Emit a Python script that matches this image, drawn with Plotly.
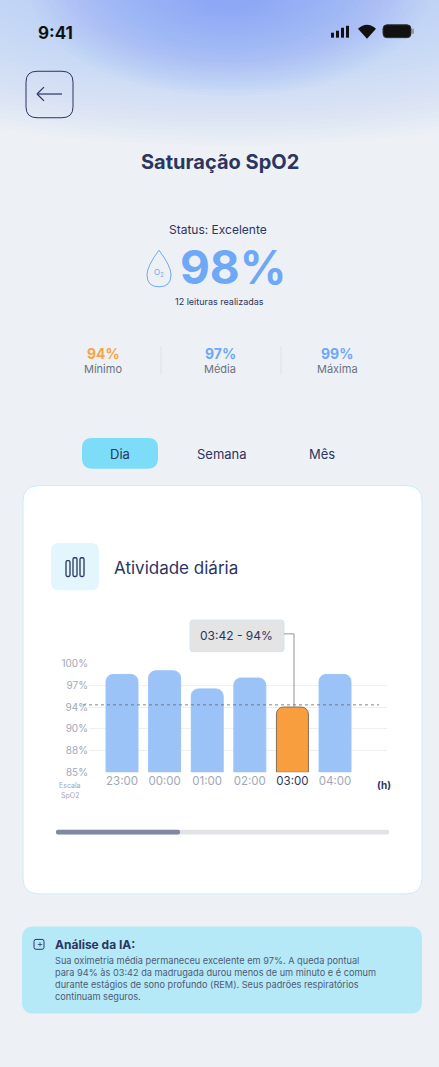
import plotly.graph_objects as go

hours = ["23:00", "00:00", "01:00", "02:00", "03:00", "04:00"]
spo2 = [98.5, 99.0, 96.5, 98.0, 94.0, 98.5]
highlight = "03:00"
scale_ticks = [85, 88, 90, 94, 97, 100]
scale_labels = ["85%", "88%", "90%", "94%", "97%", "100%"]
avg_line = 94.3

W, H = 439, 1067
def px(x): return x / W
def py(y): return 1 - y / H

def to_pos(v):
    # ordinal scale of the original: ticks equally spaced
    for i in range(len(scale_ticks) - 1):
        a, b = scale_ticks[i], scale_ticks[i + 1]
        if a <= v <= b:
            return i + (v - a) / (b - a)
    return len(scale_ticks) - 1

DARK = "#2b3561"
GREY = "#6b7280"
FONT = "Inter"

fig = go.Figure()
xs = list(range(len(hours)))
colors = ["#f99e3e" if h == highlight else "#9cc3f8" for h in hours]
lines = ["#8a6d50" if h == highlight else "#9cc3f8" for h in hours]
fig.add_trace(go.Bar(x=xs, y=[to_pos(v) for v in spo2], width=0.75,
                     marker=dict(color=colors, line=dict(color=lines, width=1)),
                     hoverinfo="skip"))
tick_txt = [f'<span style="color:{DARK}">{h}</span>' if h == highlight else h for h in hours]

shapes, ann = [], []
def rect(x0, y0, x1, y1, fill, line=None, lw=0, r=0, layer="below"):
    if r:
        p = (f"M {px(x0+r)},{py(y0)} L {px(x1-r)},{py(y0)} Q {px(x1)},{py(y0)} {px(x1)},{py(y0+r)} "
             f"L {px(x1)},{py(y1-r)} Q {px(x1)},{py(y1)} {px(x1-r)},{py(y1)} "
             f"L {px(x0+r)},{py(y1)} Q {px(x0)},{py(y1)} {px(x0)},{py(y1-r)} "
             f"L {px(x0)},{py(y0+r)} Q {px(x0)},{py(y0)} {px(x0+r)},{py(y0)} Z")
        shapes.append(dict(type="path", path=p, xref="paper", yref="paper", fillcolor=fill,
                           line=dict(color=line or fill, width=lw if line else 0), layer=layer))
    else:
        shapes.append(dict(type="rect", x0=px(x0), x1=px(x1), y0=py(y0), y1=py(y1), xref="paper",
                           yref="paper", fillcolor=fill, line=dict(color=line or fill, width=lw), layer=layer))
def seg(x0, y0, x1, y1, color, w=1, dash="solid", layer="above"):
    shapes.append(dict(type="line", x0=px(x0), x1=px(x1), y0=py(y0), y1=py(y1), xref="paper", yref="paper",
                       line=dict(color=color, width=w, dash=dash), layer=layer))
def text(x, y, s, size, color=DARK, bold=False, xa="center", fam=FONT):
    ann.append(dict(x=px(x), y=py(y), xref="paper", yref="paper", text=f"<b>{s}</b>" if bold else s,
                    showarrow=False, xanchor=xa, yanchor="middle", align="left",
                    font=dict(size=size, color=color, family=fam)))

# top glow: faint wide haze + soft blue core
n = 30
for i in range(n):
    f = 1 - i / n
    rx, ry = 120 + 420 * f, 40 + 140 * f
    shapes.append(dict(type="circle", xref="paper", yref="paper", x0=px(230 - rx), x1=px(230 + rx),
                       y0=py(-40 + ry), y1=py(-40 - ry), fillcolor="#9cc0f5", opacity=0.035,
                       line=dict(width=0), layer="below"))
for i in range(n):
    f = 1 - i / n
    rx, ry = 30 + 170 * f, 20 + 90 * f
    shapes.append(dict(type="circle", xref="paper", yref="paper", x0=px(230 - rx), x1=px(230 + rx),
                       y0=py(-20 + ry), y1=py(-20 - ry), fillcolor="#7fa0f7", opacity=0.03,
                       line=dict(width=0), layer="below"))

# status bar
text(55, 26, "9:41", 17, "#111", True)
for i, hgt in enumerate([5, 7, 10, 12]):
    rect(331 + i * 5, 31 - hgt, 334 + i * 5, 31, "#111")
shapes.append(dict(type="path", xref="paper", yref="paper", fillcolor="#111", line=dict(width=0),
                   path=f"M {px(367)},{py(32)} L {px(358)},{py(22)} Q {px(367)},{py(14)} {px(376)},{py(22)} Z"))
rect(383, 18, 411, 31, "#111", "#333", 1, r=4)
rect(412, 22, 414, 27, "#999")
# back button
rect(26, 65, 73, 112, "rgba(0,0,0,0)", DARK, 1, r=11)
seg(37, 88, 62, 88, DARK, 1.2)
seg(37, 88, 44, 81, DARK, 1.2)
seg(37, 88, 44, 95, DARK, 1.2)

text(220, 157, "Saturação SpO2", 20, DARK, True)
text(218, 225, "Status: Excelente", 12, DARK)
text(233, 263, "98%", 46, "#6fa8f7", True)
shapes.append(dict(type="path", xref="paper", yref="paper", line=dict(color="#6fa8f7", width=1),
                   path=f"M {px(159)},{py(246)} Q {px(171)},{py(262)} {px(171)},{py(271)} "
                        f"Q {px(171)},{py(283)} {px(159)},{py(283)} Q {px(147)},{py(283)} {px(147)},{py(271)} "
                        f"Q {px(147)},{py(262)} {px(159)},{py(246)} Z"))
text(159, 269, "O<sub>2</sub>", 8, "#6fa8f7")
text(219, 298, "12 leituras realizadas", 9, DARK)

for x, v, lab, c in [(103, "94%", "Mínimo", "#f7a547"), (220, "97%", "Média", "#6fa8f7"), (337, "99%", "Máxima", "#6fa8f7")]:
    text(x, 350, f"<b>{v}</b>", 14, c)
    text(x, 366, lab, 11, GREY)
seg(161, 343, 161, 372, "#dde2ea")
seg(281, 343, 281, 372, "#dde2ea")

# tabs
rect(82, 436, 158, 467, "#7ddcf7", r=10)
text(120, 452, "Dia", 13, DARK)
text(222, 452, "Semana", 13, DARK)
text(322, 452, "Mês", 13, DARK)

# card
rect(23, 484, 422, 897, "#ffffff", "#c6eef8", 1, r=16)
rect(51, 542, 99, 590, "#e3f6fd", r=8)
for x0, y0 in [(66, 560), (73, 557), (80, 557)]:
    rect(x0, y0, x0 + 4, 576, "rgba(0,0,0,0)", DARK, 1.3, r=1.5)
text(112, 567, "Atividade diária", 17, DARK, xa="left")

# tooltip
rect(190, 620, 284, 652, "#e4e4e4", "#cfe7ef", 1, r=3)
text(236, 636, "03:42 - 94%", 12, DARK)
seg(284, 634, 294, 634, "#8f96a3", 1)
seg(294, 634, 294, 708, "#8f96a3", 1)
text(384, 787, "<b>(h)</b>", 10, DARK)
text(70, 787, "Escala", 7, "#a0a8b8")
text(70, 797, "SpO2", 7, "#a0a8b8")

# scrollbar
rect(56, 832, 389, 837, "#e2e3e6", r=2)
rect(56, 832, 180, 837, "#7f8aa0", r=2)

# AI box
rect(22, 930, 422, 1018, "#b5e9f7", r=12)
rect(34, 943, 44, 953, "rgba(0,0,0,0)", DARK, 1, r=2)
text(40, 947, "+", 9, DARK)
text(53, 948, "<b>Análise da IA:</b>", 12, DARK, xa="left")
text(53, 983, "Sua oximetria média permaneceu excelente em 97%. A queda pontual<br>"
     "para 94% às 03:42 da madrugada durou menos de um minuto e é comum<br>"
     "durante estágios de sono profundo (REM). Seus padrões respiratórios<br>"
     "continuam seguros.", 9.2, "#4f5b75", xa="left")

shapes.append(dict(type="line", xref="paper", yref="y", x0=px(83), x1=px(379),
                   y0=to_pos(avg_line), y1=to_pos(avg_line), line=dict(color="#666", width=0.8, dash="dot"), layer="above"))

fig.update_layout(
    width=W, height=H, margin=dict(l=0, r=0, t=0, b=0), showlegend=False,
    paper_bgcolor="#edf1f5", plot_bgcolor="rgba(0,0,0,0)", barcornerradius=7,
    font=dict(family=FONT),
    xaxis=dict(domain=[px(89), px(387)], range=[-0.775, 6.22], tickvals=xs, ticktext=tick_txt,
               showgrid=False, zeroline=False, showline=False, ticks="",
               tickfont=dict(size=11.5, color="#a0a8b8")),
    yaxis=dict(domain=[py(774), py(664)], range=[0, 5], tickvals=list(range(6)), ticktext=scale_labels,
               showgrid=True, gridcolor="#eeeff2", zeroline=False, ticks="", ticklabelstandoff=0,
               tickfont=dict(size=10, color="#a0a8b8")),
    shapes=shapes, annotations=ann,
)
fig.write_html("out.html", config={"displayModeBar": False},
               post_script="document.body.style.margin='0';document.body.style.overflow='hidden';")
